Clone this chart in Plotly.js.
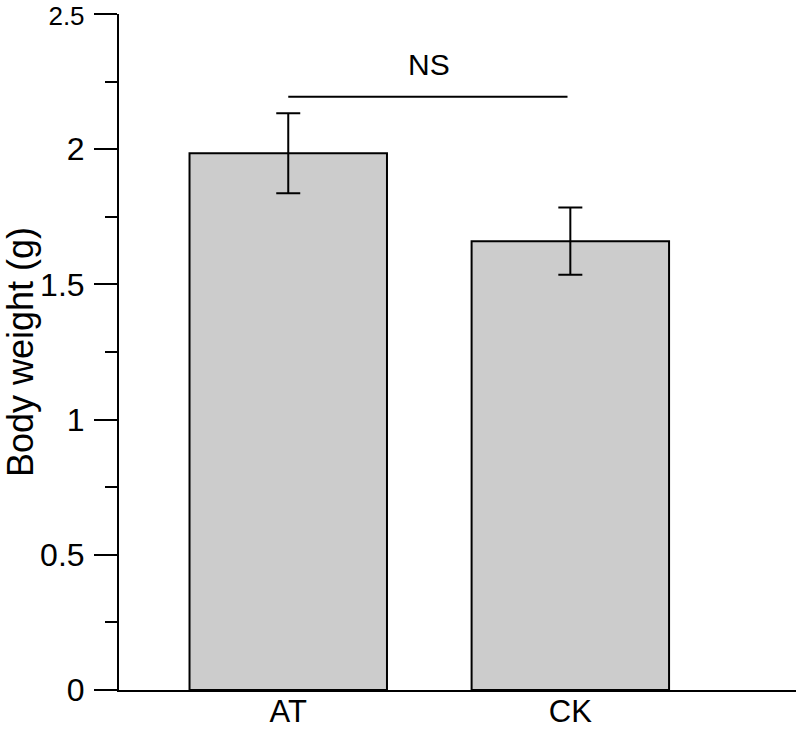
<!DOCTYPE html>
<html>
<head>
<meta charset="utf-8">
<script src="https://cdn.plot.ly/plotly-3.0.1.min.js"></script>
<style>html,body{margin:0;padding:0;background:#fff;}#chart{width:800px;height:729px;}</style>
</head>
<body>
<div id="chart"></div>
<script>
const categories = ["AT", "CK"];
const bodyWeight = [1.985, 1.66];
const errorSE = [0.148, 0.124];
const yTickVals = [0, 0.5, 1, 1.5, 2, 2.5];
const yTickText = ["0", "0.5", "1", "1.5", "2", "<span style='font-size:26px'>2.5</span>"];
const sigLabel = "NS";
const sigLevel = 2.194;

const font = "Liberation Sans, Arial, sans-serif";

const trace = {
  type: "bar",
  x: [0, 1],
  y: bodyWeight,
  width: 0.7,
  marker: {color: "#cccccc", line: {color: "#000", width: 2}},
  error_y: {type: "data", array: errorSE, visible: true, color: "#000", thickness: 2, width: 12},
  hoverinfo: "skip"
};

const layout = {
  width: 800, height: 729,
  margin: {l: 119, r: 4, t: 14, b: 39},
  paper_bgcolor: "#fff", plot_bgcolor: "#fff",
  showlegend: false,
  font: {family: font, size: 32, color: "#000"},
  xaxis: {
    range: [-0.6, 1.8],
    tickvals: [0, 1], ticktext: categories,
    ticks: "", showline: true, linecolor: "#000", linewidth: 2,
    showgrid: false, zeroline: false,
    tickfont: {family: font, size: 31},
    ticklabelstandoff: -7
  },
  yaxis: {
    range: [0, 2.5],
    tickvals: yTickVals, ticktext: yTickText,
    ticks: "outside", ticklen: 23, tickwidth: 2, tickcolor: "#000",
    minor: {dtick: 0.25, ticks: "outside", ticklen: 12, tickwidth: 2, tickcolor: "#000"},
    showline: true, linecolor: "#000", linewidth: 2,
    showgrid: false, zeroline: false,
    tickfont: {family: font, size: 32},
    ticklabelstandoff: 3,
    ticklabeloverflow: "allow",
    title: {text: "Body weight (g)", font: {family: font, size: 36}, standoff: 10}
  },
  shapes: [{
    type: "line", xref: "x", yref: "y",
    x0: 0, x1: 0.99, y0: sigLevel, y1: sigLevel,
    line: {color: "#000", width: 2}
  }],
  annotations: [{
    xref: "x", yref: "y", x: 0.5, y: 2.315,
    text: sigLabel, showarrow: false,
    font: {family: font, size: 30, color: "#000"}
  }]
};

Plotly.newPlot("chart", [trace], layout, {displayModeBar: false, staticPlot: true});
</script>
</body>
</html>
